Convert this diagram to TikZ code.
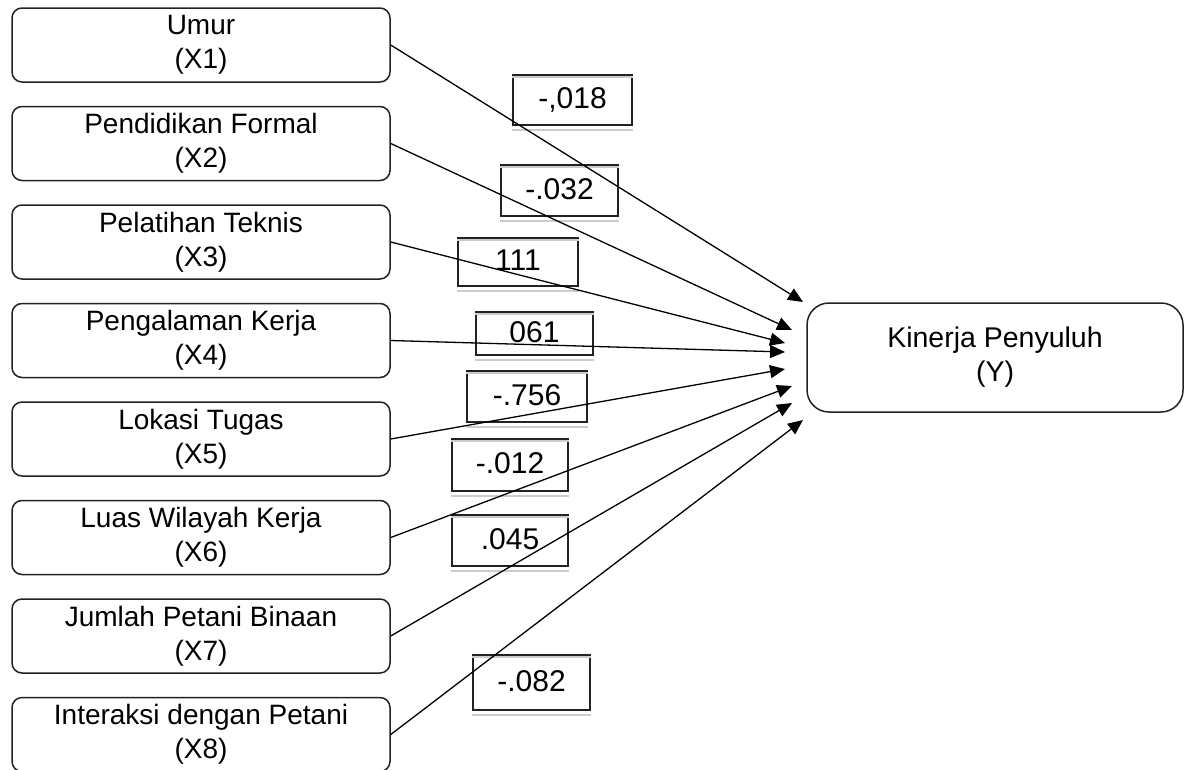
\documentclass[tikz,border=0pt]{standalone}
\usepackage{fontspec}
\setmainfont{Liberation Sans}
\usepackage{tikz}
\usetikzlibrary{arrows.meta}
\definecolor{boxline}{HTML}{222222}
\tikzstyle{factor}=[draw=boxline, rounded corners=10pt, line width=1.5pt, inner sep=0,
                    minimum width=378pt, minimum height=74pt, align=center,
                    font=\fontsize{28}{34}\selectfont]
\tikzstyle{outcome}=[factor, rounded corners=22pt, minimum width=376pt, minimum height=109pt,
                     font=\fontsize{28.5}{34}\selectfont]
\tikzstyle{coef}=[draw=boxline, line width=1.6pt, inner sep=0, text depth=3pt,
                  font=\fontsize{30}{32}\selectfont]
\tikzstyle{effect}=[line width=1.3pt, -{Triangle[length=15pt, width=13pt]}]
\tikzstyle{shade}=[gray!40, line width=2pt]

\begin{document}
\begin{tikzpicture}[x=1pt, y=-1pt]
        % Fixed frame, same size as the figure.
        \clip (0, 0) rectangle (1189, 769);
        \node[factor] (X1) at (201, 45)    {Umur\\(X1)};
        \node[factor] (X2) at (201, 143.5) {Pendidikan Formal\\(X2)};
        \node[factor] (X3) at (201, 242)   {Pelatihan Teknis\\(X3)};
        \node[factor] (X4) at (201, 340.5) {Pengalaman Kerja\\(X4)};
        \node[factor] (X5) at (201, 439)   {Lokasi Tugas\\(X5)};
        \node[factor] (X6) at (201, 537.5) {Luas Wilayah Kerja\\(X6)};
        \node[factor] (X7) at (201, 636)   {Jumlah Petani Binaan\\(X7)};
        \node[factor] (X8) at (201, 734.5) {Interaksi dengan Petani\\(X8)};
        \node[outcome] (Y) at (995, 357.5) {Kinerja Penyuluh\\(Y)};
        \node[coef, minimum width=119pt, minimum height=50pt] (c1) at (572.5, 100)   {-,018};
        \node[coef, minimum width=117pt, minimum height=51pt] (c2) at (559.5, 190.5) {-.032};
        \node[coef, minimum width=120pt, minimum height=48pt] (c3) at (518, 262)     {111};
        \node[coef, minimum width=117pt, minimum height=43pt] (c4) at (534.5, 333.5) {061};
        \node[coef, minimum width=120pt, minimum height=51pt] (c5) at (527, 396.5)   {-.756};
        \node[coef, minimum width=116pt, minimum height=52pt] (c6) at (510, 465)     {-.012};
        \node[coef, minimum width=116pt, minimum height=51pt] (c7) at (510, 540.5)   {.045};
        \node[coef, minimum width=117pt, minimum height=55pt] (c8) at (531.5, 682.5) {-.082};
        \foreach \c in {c1, c2, c3, c4, c5, c6, c7, c8} {
            \draw[shade] ([yshift=-3pt]\c.north west) -- ([yshift=-3pt]\c.north east);
            \draw[shade] ([yshift=-4pt]\c.south west) -- ([yshift=-4pt]\c.south east);
        }
        \coordinate (t1) at (803, 302);
        \coordinate (t2) at (792, 330);
        \coordinate (t3) at (785, 343);
        \coordinate (t4) at (785, 352);
        \coordinate (t5) at (785, 369);
        \coordinate (t6) at (792, 386);
        \coordinate (t7) at (792, 403);
        \coordinate (t8) at (803, 420);
        \foreach \i in {1, ..., 8} {
            \draw[effect] (X\i.east) -- (t\i);
        }
    \end{tikzpicture}
\end{document}
